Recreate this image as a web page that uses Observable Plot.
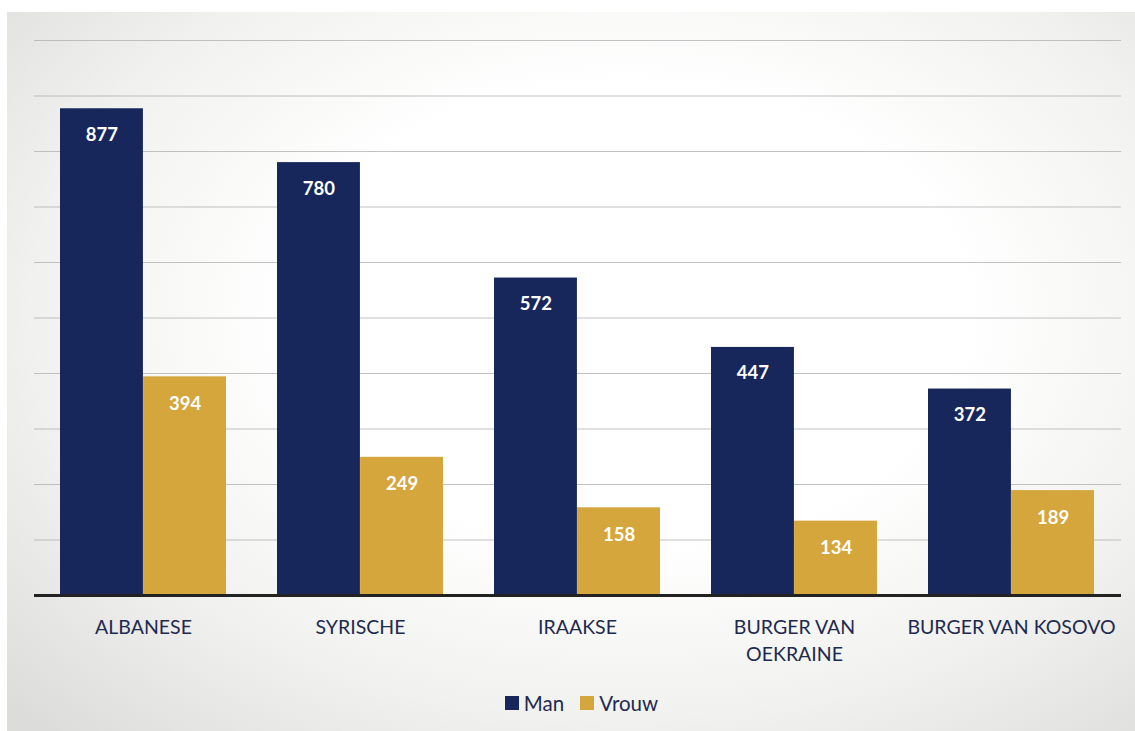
<!DOCTYPE html>
<html>
<head>
<meta charset="utf-8">
<script src="https://cdn.jsdelivr.net/npm/d3@7"></script>
<script src="https://cdn.jsdelivr.net/npm/@observablehq/plot@0.6"></script>
<style>
  html, body { margin: 0; padding: 0; background: #fff; width: 1135px; height: 731px; overflow: hidden; }
  #panel { position: absolute; left: 7px; top: 12px; width: 1128px; height: 719px;
    background: radial-gradient(ellipse 75% 80% at 55% 42%, #ffffff 40%, #f1f1ef 70%, #dcdcda 100%); }
  #chart { position: absolute; left: 0; top: 0; }
  #legend { position: absolute; left: 14px; width: 1135px; top: 690px; text-align: center;
    font-family: Lato, "Open Sans", sans-serif; font-size: 20.5px; color: #1e2a4f; }
  #legend span.item { display: inline-flex; align-items: center; margin: 0 8px; }
  #legend span.sw { display: inline-block; width: 14px; height: 14px; margin-right: 5px; }
</style>
</head>
<body>
<div id="panel"></div>
<div id="chart"></div>
<div id="legend"></div>
<script>
const categories = ["ALBANESE", "SYRISCHE", "IRAAKSE", "BURGER VAN OEKRAINE", "BURGER VAN KOSOVO"];
const tickLabels = ["ALBANESE", "SYRISCHE", "IRAAKSE", "BURGER VAN\nOEKRAINE", "BURGER VAN KOSOVO"];
const manValues = [877, 780, 572, 447, 372];
const vrouwValues = [394, 249, 158, 134, 189];
const series = ["Man", "Vrouw"];
const colors = ["#17275c", "#d5a63c"];

const man = categories.map((c, i) => ({cat: c, value: manValues[i]}));
const vrouw = categories.map((c, i) => ({cat: c, value: vrouwValues[i]}));

const W = 1135, H = 670, mL = 34, mR = 14;
const pInner = 0.235, pOuter = 0.12;
const step = (W - mL - mR) / (categories.length - pInner + 2 * pOuter);
const bw = step * (1 - pInner);
const half = bw / 2;

const plot = Plot.plot({
  width: W, height: H,
  marginLeft: mL, marginRight: mR, marginTop: 40, marginBottom: 75,
  style: {background: "transparent", fontFamily: "Lato, 'Open Sans', sans-serif"},
  x: {domain: categories, paddingInner: pInner, paddingOuter: pOuter, label: null},
  y: {domain: [0, 1000], label: null},
  marks: [
    Plot.ruleY(d3.range(100, 1001, 100), {stroke: "#aaa", strokeWidth: 1, strokeOpacity: 0.7}),
    Plot.barY(man, {x: "cat", y: "value", fill: colors[0], insetRight: half}),
    Plot.barY(vrouw, {x: "cat", y: "value", fill: colors[1], insetLeft: half}),
    Plot.text(man, {x: "cat", y: "value", text: d => String(d.value), dx: -half / 2, dy: 26,
      fill: "#fff", fontSize: 18.5, fontWeight: "bold"}),
    Plot.text(vrouw, {x: "cat", y: "value", text: d => String(d.value), dx: half / 2, dy: 27,
      fill: "#fff", fontSize: 18.5, fontWeight: "bold"}),
    Plot.ruleY([0], {stroke: "#222", strokeWidth: 3}),
    Plot.axisX({tickSize: 0, tickPadding: 19, fontSize: 19.5, fill: "#1e2a4f",
      tickFormat: d => tickLabels[categories.indexOf(d)], lineHeight: 1.4, textAnchor: "middle"}),
    Plot.axisY({ticks: [], tickSize: 0, label: null})
  ]
});
document.getElementById("chart").appendChild(plot);

const legend = document.getElementById("legend");
series.forEach((s, i) => {
  const item = document.createElement("span");
  item.className = "item";
  const sw = document.createElement("span");
  sw.className = "sw";
  sw.style.background = colors[i];
  item.appendChild(sw);
  item.appendChild(document.createTextNode(s));
  legend.appendChild(item);
});
</script>
</body>
</html>
